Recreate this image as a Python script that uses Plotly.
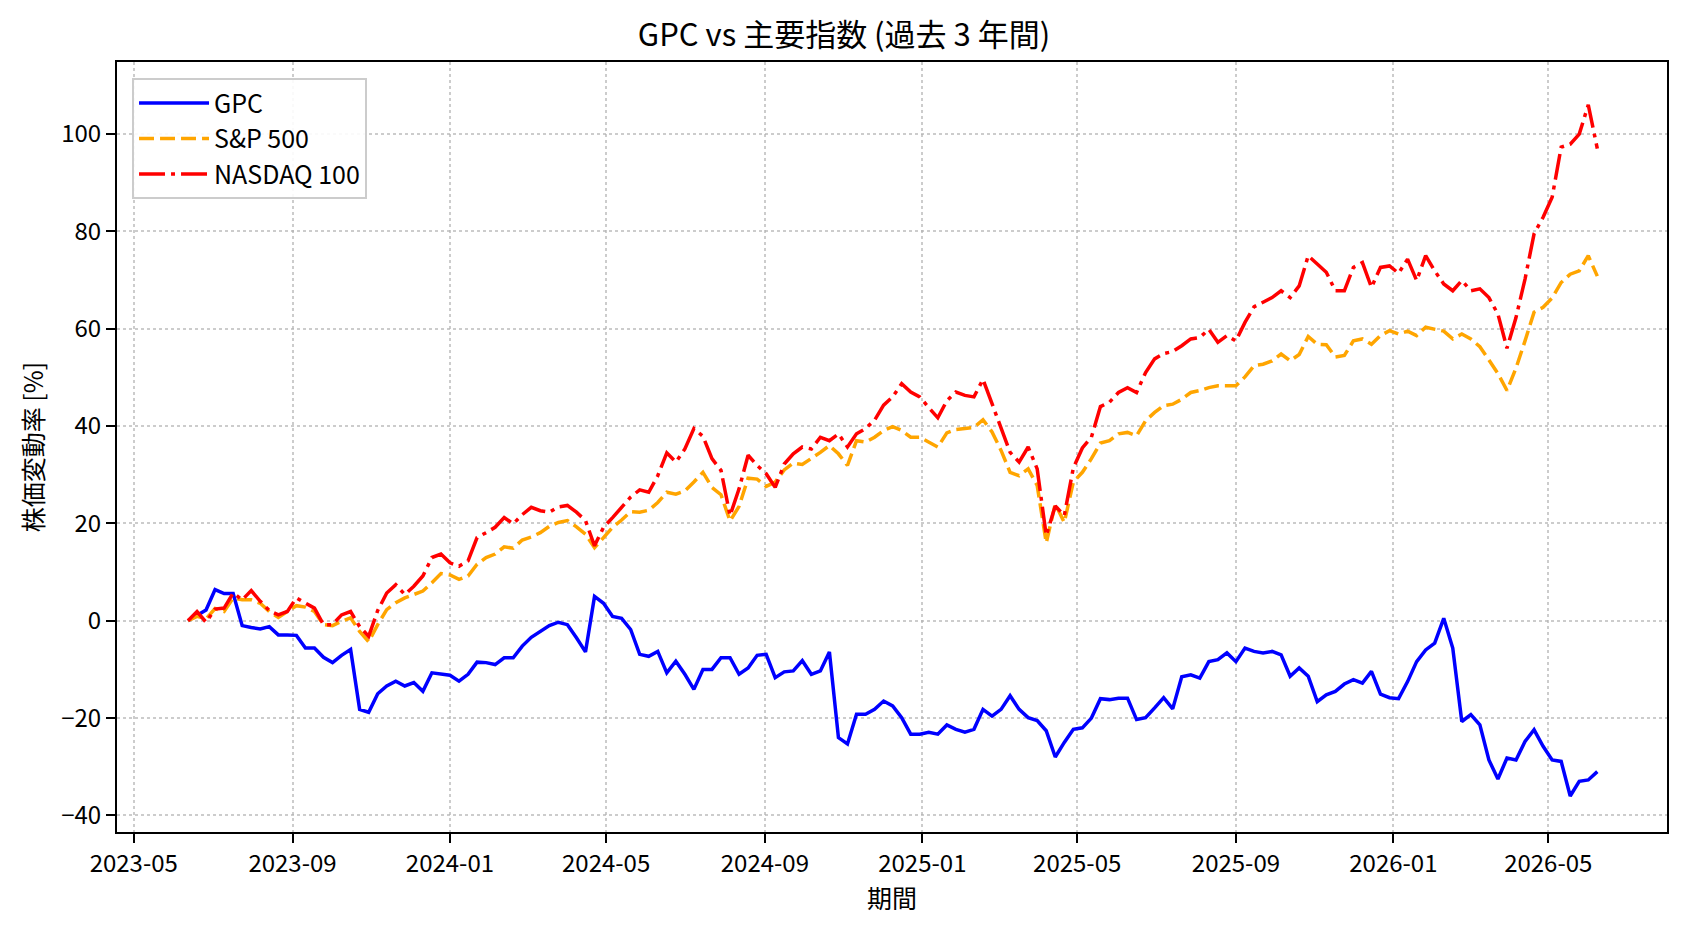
import pandas as pd
import plotly.graph_objects as go

# Weekly sample dates (start 2023-06-12)
dates = pd.date_range("2023-06-12", periods=157, freq="7D")

gpc = [0, 1.2, 2.2, 6.4, 5.6, 5.6, -1.0, -1.4, -1.7, -1.2,
       -2.9, -2.9, -3.0, -5.6, -5.6, -7.5, -8.6, -7.1, -5.9, -18.2,
       -18.8, -15.0, -13.4, -12.4, -13.4, -12.7, -14.5, -10.7, -11.0, -11.2,
       -12.4, -11.0, -8.5, -8.6, -9.0, -7.6, -7.6, -5.2, -3.4, -2.2,
       -1.0, -0.3, -0.8, -3.5, -6.4, 5.0, 3.6, 0.9, 0.5, -1.8,
       -6.9, -7.3, -6.3, -10.7, -8.3, -11.0, -14.1, -10.0, -10.0, -7.6,
       -7.6, -11.0, -9.7, -7.1, -6.9, -11.7, -10.5, -10.3, -8.2, -11.0,
       -10.3, -6.4, -24.0, -25.3, -19.2, -19.2, -18.2, -16.5, -17.5, -19.9,
       -23.3, -23.3, -22.9, -23.3, -21.4, -22.3, -22.9, -22.3, -18.2, -19.6,
       -18.2, -15.4, -18.2, -19.9, -20.5, -22.6, -28.0, -25.0, -22.3, -22.0,
       -20.0, -16.0, -16.2, -15.9, -15.9, -20.3, -19.9, -17.9, -15.8, -18.1,
       -11.5, -11.1, -11.8, -8.4, -8.0, -6.6, -8.4, -5.6, -6.3, -6.6,
       -6.3, -7.0, -11.4, -9.7, -11.4, -16.6, -15.2, -14.5, -13.0, -12.1,
       -12.8, -10.4, -15.1, -15.8, -16.0, -12.5, -8.4, -6.0, -4.6, 0.5,
       -5.6, -20.7, -19.3, -21.4, -28.6, -32.5, -28.2, -28.6, -24.8, -22.4,
       -25.8, -28.6, -28.9, -36.0, -33.0, -32.7, -31.0]

sp500 = [0, 0.9, 0.4, 2.5, 1.9, 4.7, 4.3, 4.3, 3.6, 1.9,
         0.7, 1.8, 3.1, 2.8, 1.9, -0.8, -1.0, -0.1, 0.6, -2.2,
         -4.3, -0.8, 2.3, 3.7, 4.7, 5.4, 6.1, 7.8, 9.7, 9.4,
         8.5, 9.2, 11.6, 13.0, 13.7, 15.2, 14.9, 16.6, 17.2, 18.1,
         19.4, 20.2, 20.6, 19.3, 17.8, 15.0, 17.2, 19.2, 20.7, 22.4,
         22.3, 22.7, 24.3, 26.4, 26.0, 26.7, 28.5, 30.5, 27.4, 25.9,
         20.5, 23.5, 29.3, 29.1, 27.6, 28.5, 31.0, 32.4, 32.1, 33.3,
         34.6, 36.0, 34.3, 31.9, 37.0, 36.7, 37.7, 39.1, 39.9, 39.1,
         37.7, 37.7, 36.7, 35.7, 38.6, 39.3, 39.5, 39.7, 41.3, 38.8,
         35.0, 30.5, 29.8, 31.2, 27.8, 16.0, 24.0, 20.2, 28.5, 30.5,
         33.3, 36.5, 37.0, 38.4, 38.7, 38.0, 41.1, 42.8, 44.2, 44.5,
         45.5, 46.9, 47.3, 47.9, 48.3, 48.3, 48.3, 50.1, 52.4, 52.7,
         53.4, 54.8, 53.4, 54.7, 58.4, 56.8, 56.7, 54.2, 54.5, 57.5,
         57.9, 56.8, 58.6, 59.6, 58.9, 59.5, 58.6, 60.3, 59.9, 59.5,
         57.9, 58.9, 57.9, 56.3, 53.6, 50.8, 47.3, 51.9, 57.5, 63.4,
         64.4, 66.3, 69.5, 71.2, 71.9, 75.0, 70.8]

nasdaq100 = [0, 1.9, -0.3, 2.4, 2.6, 5.7, 4.3, 6.2, 4.0, 2.1,
             1.2, 1.9, 4.7, 3.7, 2.6, -0.8, -0.8, 1.2, 1.9, -1.2,
             -3.2, 2.1, 5.7, 7.4, 5.4, 7.1, 9.2, 13.0, 13.7, 11.9,
             11.2, 12.3, 17.1, 18.1, 19.2, 21.2, 19.9, 21.8, 23.3, 22.6,
             22.3, 23.4, 23.7, 22.3, 20.6, 15.4, 19.2, 21.2, 23.2, 25.4,
             26.9, 26.4, 29.8, 34.5, 32.6, 35.3, 39.5, 37.9, 33.3, 30.9,
             21.6, 27.1, 34.0, 31.9, 30.2, 27.4, 32.2, 34.3, 35.7, 35.3,
             37.7, 37.0, 38.4, 35.7, 38.4, 39.5, 41.2, 44.3, 46.0, 48.7,
             47.0, 46.0, 43.8, 41.7, 45.2, 47.0, 46.3, 46.0, 49.6, 44.6,
             39.5, 34.6, 32.6, 35.7, 31.2, 17.5, 23.6, 21.6, 31.4, 35.5,
             37.7, 44.0, 44.9, 46.9, 47.9, 46.9, 51.0, 53.8, 54.9, 55.3,
             56.5, 57.9, 58.2, 59.9, 57.2, 58.6, 57.5, 61.3, 64.5, 65.4,
             66.4, 67.8, 66.4, 68.8, 75.0, 73.3, 71.6, 67.8, 67.8, 72.6,
             73.6, 68.5, 72.6, 72.9, 71.4, 74.3, 69.9, 75.0, 71.9, 69.2,
             67.8, 69.9, 67.8, 68.2, 66.4, 63.0, 56.0, 62.3, 70.2, 79.5,
             82.9, 87.0, 97.3, 97.9, 100.0, 106.0, 97.0]

tick_dates = ["2023-05-01", "2023-09-01", "2024-01-01", "2024-05-01", "2024-09-01",
              "2025-01-01", "2025-05-01", "2025-09-01", "2026-01-01", "2026-05-01"]
tick_labels = ["2023-05", "2023-09", "2024-01", "2024-05", "2024-09",
               "2025-01", "2025-05", "2025-09", "2026-01", "2026-05"]
y_ticks = [-40, -20, 0, 20, 40, 60, 80, 100]

FONT = "Noto Sans CJK JP"

fig = go.Figure()
fig.add_trace(go.Scatter(x=dates, y=gpc, mode="lines", name="GPC",
                         line=dict(color="#0000ff", width=3.5)))
fig.add_trace(go.Scatter(x=dates, y=sp500, mode="lines", name="S&P 500",
                         line=dict(color="#ffa500", width=3.5, dash="15px,6px")))
fig.add_trace(go.Scatter(x=dates, y=nasdaq100, mode="lines", name="NASDAQ 100",
                         line=dict(color="#ff0000", width=3.5, dash="26px,6px,4px,6px")))

axis_common = dict(
    showline=True, mirror=True, linecolor="black", linewidth=2,
    ticks="outside", ticklen=9, tickwidth=2, tickcolor="black",
    showgrid=True, gridcolor="rgba(176,176,176,0.65)", gridwidth=1.6, griddash="dot",
    zeroline=False,
    tickfont=dict(family=FONT, size=24, color="black"),
)

fig.update_layout(
    width=1688, height=932,
    margin=dict(l=117, r=21, t=62, b=100),
    paper_bgcolor="white", plot_bgcolor="white",
    font=dict(family=FONT, color="black", size=24),
    title=dict(text="GPC vs 主要指数 (過去 3 年間)", x=0.5, xanchor="center",
               y=1 - 35 / 932, yanchor="middle", yref="container",
               font=dict(family=FONT, size=31, color="black")),
    xaxis=dict(axis_common, range=["2023-04-18", "2026-08-01"], type="date",
               tickvals=tick_dates, ticktext=tick_labels,
               title=dict(text="期間", font=dict(family=FONT, size=25), standoff=6)),
    yaxis=dict(axis_common, range=[-43.4, 114.8], tickvals=y_ticks,
               title=dict(text="株価変動率 [%]", font=dict(family=FONT, size=25), standoff=10)),
    legend=dict(x=0.0097, y=0.979, xanchor="left", yanchor="top",
                bgcolor="rgba(255,255,255,0.9)", bordercolor="#cccccc", borderwidth=2,
                font=dict(family=FONT, size=25, color="black"),
                itemwidth=70),
    showlegend=True,
)

fig.write_html("out.html")
